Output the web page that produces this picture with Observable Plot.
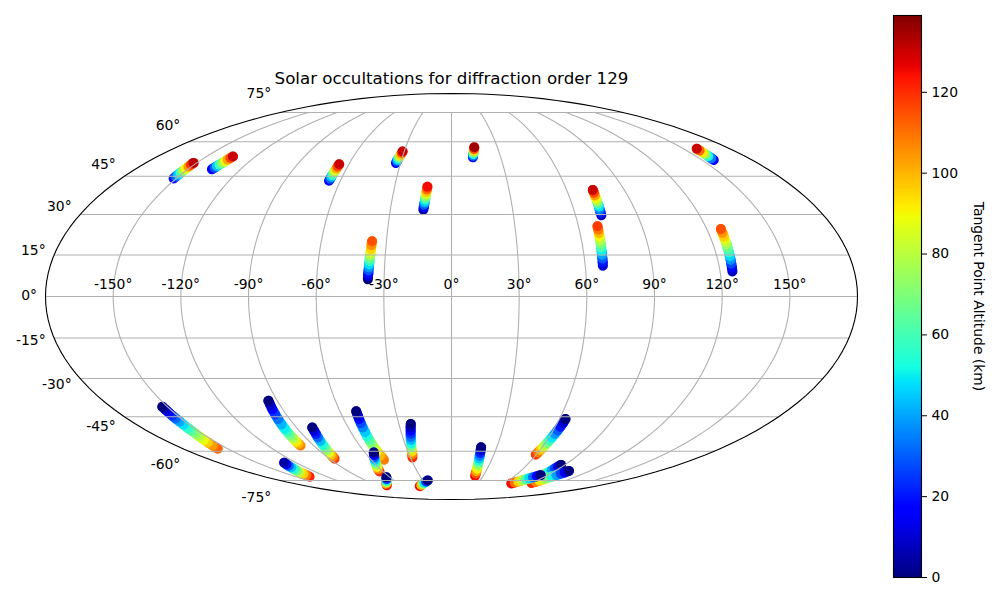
<!DOCTYPE html>
<html>
<head>
<meta charset="utf-8">
<script src="https://cdn.jsdelivr.net/npm/d3@7"></script>
<script src="https://cdn.jsdelivr.net/npm/@observablehq/plot@0.6"></script>
<style>
html,body{margin:0;padding:0;background:#fff}
#chart{position:relative;width:1000px;height:600px;overflow:hidden}
#chart svg{position:absolute;left:0;top:0;background:transparent;max-width:none}
</style>
</head>
<body>
<div id="chart"></div>
<script>
const titleText = "Solar occultations for diffraction order 129";
const colorbarLabel = "Tangent Point Altitude (km)";
const lonTicks = [-150,-120,-90,-60,-30,0,30,60,90,120,150];
const latTicks = [-75,-60,-45,-30,-15,0,15,30,45,60,75];
const altTicks = [0,20,40,60,80,100,120];
const altMax = 139;

// One entry per occultation, in drawing order: longitude, latitude, altitude
const trackLon = [
  [-151.4,-151.5,-151.5,-151.6,-151.6,-151.7,-151.7,-151.8,-151.9],
  [-136.3,-136,-135.7,-135.4,-135,-134.7,-134.4,-134.1,-133.8],
  [-66.1,-66,-66,-65.9,-65.9,-65.8,-65.7,-65.7,-65.6],
  [-32.7,-32.5,-32.2,-32,-31.7,-31.5,-31.2,-31],
  [-13.8,-13.7,-13.6,-13.4,-13.3,-13.2,-13.1,-13,-12.8,-12.7],
  [-37.2,-37.2,-37.1,-37.1,-37,-37,-36.9,-36.9,-36.8,-36.8,-36.7,-36.7,-36.6],
  [13,13.3,13.6,14,14.3,14.6,14.9],
  [157,157.3,157.5,157.8,158.1,158.3,158.6],
  [72.5,72.6,72.7,72.9,73,73.1,73.2,73.3,73.5,73.6],
  [67.9,68,68.1,68.2,68.3,68.4,68.5,68.6,68.7,68.8,68.9,69],
  [125.5,125.6,125.7,125.8,125.9,126,126.1,126.2,126.3,126.4,126.5,126.6],
  [-152.7,-152.7,-152.8,-152.9,-153,-153,-153.2,-153.4,-153.7,-154,-154.4,-154.8,-155.3,-155.9,-156.5],
  [-94.6,-95,-95.5,-96,-96.5,-97,-97.4,-97.7,-97.9,-98.1,-98.2,-98.4,-98.5,-98.6],
  [-80.8,-81.2,-81.7,-82.3,-82.9,-83.5,-84,-84.5,-84.9,-85.3,-85.7,-86.1],
  [-129.2,-130,-130.9,-131.7,-132.5,-133.4,-134.2,-135,-135.9,-136.8],
  [-51.2,-51.3,-51.4,-51.5,-51.5,-51.5,-51.5,-51.5,-51.4,-51.2,-51,-50.7,-50.4],
  [-53.9,-55,-56.2,-57.3,-58.4,-59.5,-60.6,-61.8,-62.9],
  [-63.5,-65.8,-68.5,-71.5,-74.8,-78.1],
  [-23.2,-23.7,-24.1,-24.6,-25,-25.5,-25.9,-26.3,-26.8,-27.2,-27.7,-28.4],
  [-24.9,-27.5,-30.3,-33.1,-36.2,-39.5],
  [19.6,19.8,20,20.2,20.4,20.7,20.9,21.2,21.4,21.7,22,22.3],
  [63.4,63.2,62.9,62.6,62.2,61.8,61.5,61.2,60.9,60.6,60.3,60,59.6],
  [86.9,86.6,86.3,85.9,85.6,85.3,85,84.7,84.3,84],
  [101.7,100.4,99.1,97.8,96.5,95.2,93.9,92.6,91.3,90],
  [83.2,81.3,79.4,77.5,75.6,73.7,71.8,69.8,67.9]
];
const trackLat = [
  [44.1,44.9,45.7,46.5,47.3,48.1,49,49.8,50.6],
  [47.9,48.6,49.2,49.9,50.6,51.3,52,52.7,53.35],
  [43.2,44,44.8,45.6,46.6,47.4,48.2,49.1,50],
  [50.55,51.3,52,52.7,53.4,54.1,54.9,55.6],
  [31.8,32.8,33.8,34.8,35.8,36.8,37.8,38.8,39.8,40.8],
  [6.2,7.4,8.3,9.4,10.5,11.6,12.8,13.9,15,16,17.2,18.6,20],
  [53,53.7,54.5,55.2,56,56.7,57.5],
  [51.8,52.6,53.5,54.3,55.1,56,56.8],
  [29.7,30.8,31.9,33,34.1,35.1,36.2,37.3,38.4,39.5],
  [11.1,12.4,13.7,15.1,16.4,17.7,19,20.3,21.7,23,24.3,25.6],
  [9,10.4,11.8,13.2,14.6,16,17.5,18.9,20.3,21.7,23.1,24.5],
  [-41,-42.2,-43.4,-44.6,-45.8,-47,-48.3,-49.8,-51,-52.3,-53.5,-54.8,-56,-57.4,-58.8],
  [-38.6,-40.2,-42,-44,-46,-48.2,-50,-51.3,-52.6,-53.7,-54.7,-55.7,-56.6,-57.4],
  [-49.5,-50.9,-52.3,-53.8,-55.4,-57,-58.3,-59.5,-60.6,-61.6,-62.6,-63.5],
  [-65.5,-66.3,-67.1,-67.9,-68.8,-69.6,-70.4,-71.3,-72.1,-72.9],
  [-42.8,-44.4,-46,-47.7,-49.5,-51.5,-53.3,-55,-56.8,-58.5,-60,-62,-64.1],
  [-60.6,-61.8,-62.9,-64.1,-65.3,-66.5,-67.6,-68.8,-70],
  [-73.2,-74.2,-75.1,-76.1,-77,-78],
  [-48,-49.4,-50.8,-52.2,-53.5,-54.9,-56.2,-57.5,-58.8,-60.2,-61.5,-62.9],
  [-75,-75.7,-76.4,-77.1,-77.8,-78.5],
  [-58.2,-59.5,-60.8,-62.1,-63.4,-64.7,-65.9,-67.2,-68.5,-69.8,-71.1,-72.4],
  [-46,-47.6,-49.2,-50.8,-52.3,-53.8,-55.1,-56.2,-57.3,-58.3,-59.4,-60.5,-61.6],
  [-66.6,-67.5,-68.5,-69.4,-70.3,-71.3,-72.2,-73.1,-74.1,-75],
  [-69.7,-70.5,-71.2,-72,-72.8,-73.5,-74.3,-75.1,-75.8,-76.6],
  [-72,-72.6,-73.2,-73.8,-74.4,-75,-75.6,-76.2,-76.8]
];
const trackAlt = [
  [18,32,46,60,75,89,104,118,132],
  [15,29,44,58,73,87,102,116,130],
  [15,29,44,58,73,87,102,116,130],
  [15,31,48,64,81,97,114,130],
  [5,18,32,45,58,72,85,98,112,125],
  [0,10,19,29,38,48,58,67,77,86,96,105,115],
  [15,35,55,75,95,115,135],
  [15,34,53,72,92,111,130],
  [8,22,35,49,62,76,89,103,116,130],
  [10,20,30,40,50,60,69,79,89,99,109,118],
  [8,18,27,37,47,57,66,76,86,96,105,115],
  [0,8,16,24,32,40,48,56,64,72,80,88,96,104,112],
  [0,8,17,25,33,42,50,58,67,75,83,92,100,108],
  [0,11,21,32,43,54,64,75,86,97,107,118],
  [5,18,31,44,57,70,83,96,109,122],
  [0,9,18,27,36,45,54,63,72,81,90,99,108],
  [0,15,30,45,60,75,90,105,120],
  [0,25,50,75,100,125],
  [0,8,16,24,33,42,52,65,80,95,108,120],
  [0,25,50,75,100,125],
  [0,11,23,34,45,57,68,80,91,102,114,125],
  [0,10,20,30,39,49,59,69,79,88,98,108,118],
  [0,13,27,40,53,67,80,93,107,120],
  [0,13,27,40,53,67,80,93,107,120],
  [0,16,32,48,64,80,95,110,125]
];

// Colormap stops (jet)
const jetStops = [0,0.11,0.125,0.34,0.35,0.375,0.64,0.65,0.66,0.89,0.91,1];
const jetColors = ["#00007f","#0000ff","#0000ff","#00dbff","#00e6f7","#15ffe2","#eeff08","#f7f500","#ffec00","#ff1300","#e80000","#7f0000"];
const jet = d3.scaleLinear().domain(jetStops).range(jetColors).interpolate(d3.interpolateRgb);

// Northern tracks paint low to high altitude; southern ones paint high to low.
const tracks = trackLon.map((lons, i) => {
  const track = lons.map((lon, j) => ({track: i, lon, lat: trackLat[i][j], alt: trackAlt[i][j]}));
  return track[0].lat < 0 ? track.reverse() : track;
});

// Mollweide projection
function mollweideRaw(lambda, phi) {
  let theta = phi;
  const target = Math.PI * Math.sin(phi);
  if (Math.abs(Math.abs(phi) - Math.PI / 2) > 1e-9) {
    for (let k = 0; k < 40; ++k) {
      const delta = (2 * theta + Math.sin(2 * theta) - target) / (2 + 2 * Math.cos(2 * theta));
      theta -= delta;
      if (Math.abs(delta) < 1e-9) break;
    }
  }
  return [2 * Math.SQRT2 / Math.PI * lambda * Math.cos(theta), Math.SQRT2 * Math.sin(theta)];
}
const projection = d3.geoProjection(mollweideRaw)
  .scale(203 / Math.SQRT2)
  .translate([451, 296])
  .precision(0.1);

const meridians = lonTicks.map(lon => ({type: "LineString", coordinates: [[lon, -75], [lon, 0], [lon, 75]]}));
const parallels = latTicks.map(lat => ({type: "LineString", coordinates: d3.range(-180, 180.5, 1).map(lon => [lon, lat])}));

const font = "DejaVu Sans";
const labelSize = 13.9;
const trackWidth = 10;

const colorScale = {type: "linear", domain: [0, altMax], interpolate: t => jet(t)};

const map = Plot.plot({
  width: 1000, height: 600,
  marginTop: 0, marginRight: 0, marginBottom: 0, marginLeft: 0,
  projection,
  color: colorScale,
  style: {fontFamily: font, background: "transparent"},
  marks: [
    // A segment takes the colour of its first point, so a dot carries the last one.
    ...tracks.flatMap(track => [
      Plot.line(track, {x: "lon", y: "lat", z: "track", stroke: "alt", strokeWidth: trackWidth,
        strokeLinecap: "round", strokeLinejoin: "round"}),
      Plot.dot(track.slice(-1), {x: "lon", y: "lat", fill: "alt", r: trackWidth / 2})
    ]),
    Plot.geo(meridians, {stroke: "#b0b0b0", strokeWidth: 1.1}),
    Plot.geo(parallels, {stroke: "#b0b0b0", strokeWidth: 1.1}),
    Plot.sphere({stroke: "black", strokeWidth: 1.1}),
    Plot.text(lonTicks, {x: d => d, y: () => 0, text: d => `${d}°`, dy: -12,
      fontSize: labelSize, fill: "black"}),
    ...latTicks.map(lat => Plot.text([lat], {x: () => -180, y: d => d, text: d => `${d}°`,
      textAnchor: "end", dx: -8.5, dy: -1 - lat * 0.245, fontSize: labelSize, fill: "black"})),
    Plot.text([titleText], {frameAnchor: "top-left", dx: 451, dy: 78, lineAnchor: "middle",
      textAnchor: "middle", fontSize: 16.67, fill: "black"})
  ]
});

const levels = d3.range(0, altMax, 0.5);
const bar = Plot.plot({
  width: 1000, height: 600,
  marginTop: 15, marginBottom: 23, marginLeft: 893, marginRight: 79,
  y: {domain: [0, altMax]},
  color: colorScale,
  style: {fontFamily: font, background: "transparent"},
  marks: [
    Plot.barY(levels, {y1: d => d, y2: d => d + 0.5, fill: d => d + 0.25, shapeRendering: "crispEdges"}),
    Plot.frame({stroke: "black", strokeWidth: 1.1}),
    Plot.axisY(altTicks, {anchor: "right", tickSize: 5, tickPadding: 5, label: null,
      fontSize: labelSize, fill: "black", stroke: "black", tickFormat: d => `${d}`}),
    Plot.text([colorbarLabel], {frameAnchor: "middle", dx: 71, rotate: 90, fontSize: labelSize, fill: "black"})
  ]
});

document.getElementById("chart").append(map, bar);
</script>
</body>
</html>
